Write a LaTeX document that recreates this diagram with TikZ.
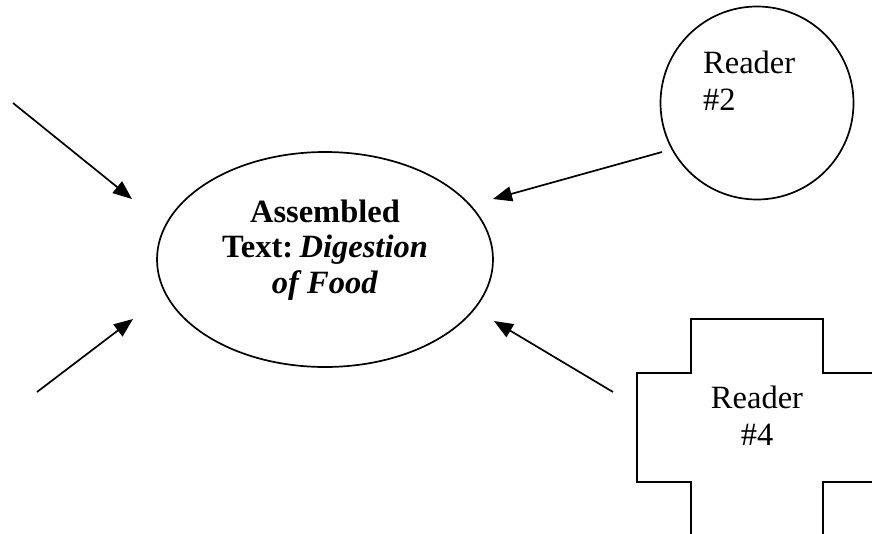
\documentclass[tikz,border=0pt]{standalone}
\usepackage{fontspec}
\setmainfont{Liberation Serif}
\usetikzlibrary{shapes.geometric,arrows.meta}
\tikzset{
  outline/.style={draw=black, line width=1.7pt},
  feed/.style={line width=1.7pt, -{Triangle[length=19pt,width=15pt]}},
  bigtext/.style={font=\fontsize{32.5}{37}\selectfont, inner sep=0pt},
}
\begin{document}
\begin{tikzpicture}[x=1pt, y=-1pt]
  \useasboundingbox (0,0) rectangle (872,533);

  % central ellipse
  \node[outline, ellipse, minimum width=336pt, minimum height=215pt, inner sep=0pt] (asm) at (325,259.5) {};
  \node[bigtext, align=center, anchor=base, font=\fontsize{32.5}{35.5}\selectfont] (asmlabel) at (325,293)
    {\textbf{Assembled}\\\textbf{Text:}\hspace{0.2em}\textbf{\textit{Digestion}}\\\textbf{\textit{of Food}}};

  % reader 2 circle
  \node[outline, circle, minimum size=193pt, inner sep=0pt] (reader2) at (757,103) {};
  \node[bigtext, align=left, anchor=base west] (r2label) at (703,110) {Reader\\\#2};

  % reader 4 cross, cut off by the page edge
  \begin{scope}
    \clip (0,0) rectangle (872,533);
    \draw[outline, line join=miter] (691,545) -- (691,482) -- (637,482) -- (637,373) -- (691,373)
      -- (691,319) -- (823,319) -- (823,373) -- (885,373);
    \draw[outline, line join=miter] (885,482) -- (823,482) -- (823,545);
  \end{scope}
  \node[bigtext, align=center, anchor=base] (r4label) at (757,445) {Reader\\\#4};

  % arrow end points
  \coordinate (inA) at (13,103);
  \coordinate (tipA) at (132,199);
  \coordinate (inB) at (37,392);
  \coordinate (tipB) at (133,319);
  \coordinate (inC) at (662,152);
  \coordinate (tipC) at (493,199);
  \coordinate (inD) at (613,392);
  \coordinate (tipD) at (494,321);

  \draw[feed] (inA) -- (tipA);
  \draw[feed] (inB) -- (tipB);
  \draw[feed] (inC) -- (tipC);
  \draw[feed] (inD) -- (tipD);
\end{tikzpicture}
\end{document}
